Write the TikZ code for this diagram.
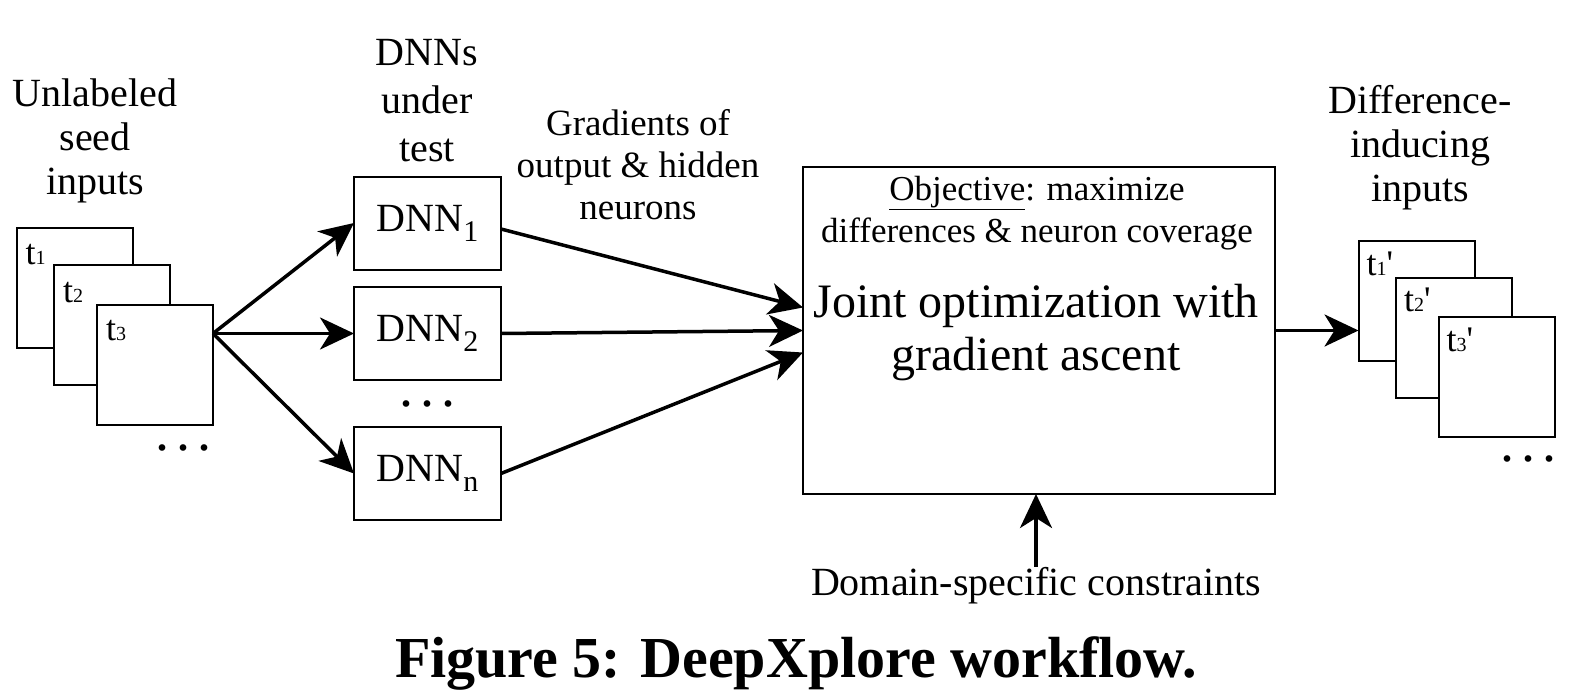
\documentclass[tikz,border=0pt]{standalone}
\usepackage{fontspec}
\setmainfont{Liberation Serif}
\usetikzlibrary{arrows.meta,calc}
\tikzset{
  card/.style={draw, line width=2pt, fill=white, minimum width=116pt, minimum height=120pt, inner sep=0pt, outer sep=0pt},
  dnnbox/.style={draw, line width=2pt, minimum width=147pt, minimum height=93pt, inner sep=0pt, outer sep=0pt, font=\fontsize{40}{44}\selectfont},
  bigbox/.style={draw, line width=2pt, minimum width=472pt, minimum height=327pt, inner sep=0pt, outer sep=0pt},
  lbl/.style={align=center, inner sep=0pt, font=\fontsize{40}{44}\selectfont},
  tlbl/.style={anchor=base west, inner sep=0pt, font=\fontsize{36}{36}\selectfont},
  dots/.style={anchor=base, inner sep=0pt, font=\fontsize{56}{56}\selectfont},
  flow/.style={line width=3.5pt, -{Stealth[length=34pt,width=32pt,inset=10pt]}}
}
\newcommand{\sm}[1]{{\fontsize{20}{20}\selectfont #1}}
\newcommand{\dnnsub}[1]{\raisebox{-10pt}{\fontsize{30}{30}\selectfont #1}}
\begin{document}
\begin{tikzpicture}[x=1pt,y=-1pt]
\useasboundingbox (0,0) rectangle (1570,690);

% left stack
\node[card] (t1) at (74.5,288) {};
\node[card] (t2) at (112,325) {};
\node[card] (t3) at (155,364.5) {};
\node[tlbl] (t1l) at ($(t1.north west)+(9,36)$) {t\sm{1}};
\node[tlbl] (t2l) at ($(t2.north west)+(9,37)$) {t\sm{2}};
\node[tlbl] (t3l) at ($(t3.north west)+(9,36)$) {t\sm{3}};
\node[dots] (ldots) at (183,450) {.\hspace{7pt}.\hspace{7pt}.};
\node[lbl, anchor=base] (inlbl) at (95,194) {Unlabeled\\seed\\inputs};

% DNNs
\node[dnnbox] (d1) at (427.5,223) {DNN\dnnsub{1}};
\node[dnnbox] (d2) at (427.5,333.5) {DNN\dnnsub{2}};
\node[dnnbox] (dn) at (427.5,473.5) {DNN\dnnsub{n}};
\node[dots] (mdots) at (427,406) {.\hspace{7pt}.\hspace{7pt}.};
\node[lbl, anchor=base, font=\fontsize{40}{48}\selectfont] (dnnlbl) at (427,161) {DNNs\\under\\test};
\node[lbl, anchor=base, font=\fontsize{37}{42}\selectfont] (gradlbl) at (638,219) {Gradients of\\output \& hidden\\neurons};

% big box
\node[bigbox] (big) at (1039,330.5) {};
\node[lbl, anchor=base, font=\fontsize{35}{42}\selectfont] (obj) at (1037,242) {\underline{Objective}: maximize\\differences \& neuron coverage};
\node[lbl, anchor=base, font=\fontsize{48}{53}\selectfont] (joint) at (1036,370) {Joint optimization with\\gradient ascent};
\node[lbl, anchor=base] (dom) at (1036,595) {Domain-specific constraints};

% right stack
\node[card] (r1) at (1416.5,301) {};
\node[card] (r2) at (1454,337.5) {};
\node[card] (r3) at (1496.5,377) {};
\node[tlbl] (r1l) at ($(r1.north west)+(8,34)$) {t\sm{1}\textquotesingle};
\node[tlbl] (r2l) at ($(r2.north west)+(8,34)$) {t\sm{2}\textquotesingle};
\node[tlbl] (r3l) at ($(r3.north west)+(8,34)$) {t\sm{3}\textquotesingle};
\node[dots] (rdots) at (1528,461) {.\hspace{7pt}.\hspace{7pt}.};
\node[lbl, anchor=base] (outlbl) at (1420,201) {Difference-\\inducing\\inputs};

% caption
\node[anchor=base, inner sep=0pt, font=\fontsize{58}{58}\selectfont\bfseries] (cap) at (796,677) {Figure 5: DeepXplore workflow.};

% connectors
\coordinate (fan) at (t3.east |- d2.west);
\draw[flow] (fan) -- (d1.west);
\draw[flow] (fan) -- (d2.west);
\draw[flow] (fan) -- (dn.west);
\coordinate (in1) at ($(big.west)+(0,-23)$);
\coordinate (in2) at (big.west);
\coordinate (in3) at ($(big.west)+(0,22)$);
\draw[flow] ($(d1.east)+(0,6)$) -- (in1);
\draw[flow] (d2.east) -- (in2);
\draw[flow] (dn.east) -- (in3);
\draw[flow] (big.east) -- (r1.west |- big.east);
\draw[flow] (dom.north) -- (dom.north |- big.south);
\end{tikzpicture}
\end{document}
